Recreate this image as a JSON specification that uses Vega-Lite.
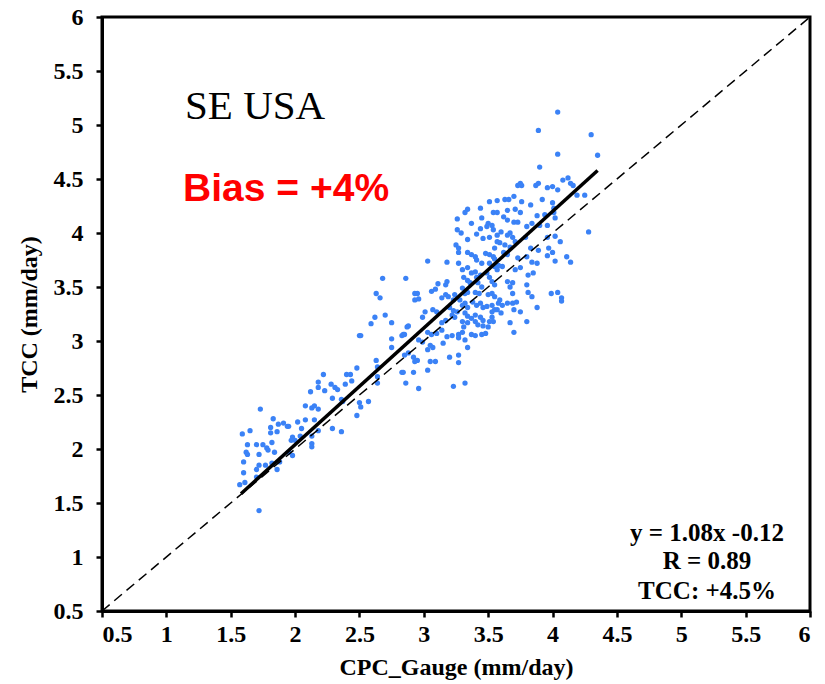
{
  "$schema": "https://vega.github.io/schema/vega-lite/v6.json",
  "autosize": "none",
  "width": 708,
  "height": 594,
  "padding": {"left": 102, "top": 17, "right": 15, "bottom": 73},
  "background": "white",
  "config": {
    "view": {"stroke": "black", "strokeWidth": 3},
    "axis": {
      "grid": false,
      "domainColor": "black",
      "domainWidth": 3,
      "tickColor": "black",
      "tickWidth": 2.5,
      "tickSize": 6,
      "labelFont": "Liberation Serif",
      "labelFontWeight": "bold",
      "labelColor": "black",
      "titleFont": "Liberation Serif",
      "titleFontWeight": "bold",
      "titleFontSize": 24,
      "titleColor": "black"
    }
  },
  "datasets": {
    "pts": [
      {"x":2.50,"y":3.05},{"x":2.75,"y":3.02},{"x":2.75,"y":2.94},{"x":2.83,"y":3.05},{"x":2.85,"y":2.87},{"x":2.63,"y":2.82},{"x":2.64,"y":2.76},{"x":2.48,"y":2.75},{"x":2.83,"y":2.71},{"x":2.22,"y":2.69},
      {"x":2.40,"y":2.69},{"x":2.43,"y":2.69},{"x":2.44,"y":2.63},{"x":2.18,"y":2.62},{"x":2.18,"y":2.57},{"x":2.28,"y":2.60},{"x":2.31,"y":2.57},{"x":2.33,"y":2.55},{"x":2.39,"y":2.60},{"x":2.23,"y":2.54},
      {"x":2.12,"y":2.53},{"x":2.64,"y":2.67},{"x":2.64,"y":2.61},{"x":2.29,"y":2.47},{"x":2.36,"y":2.46},{"x":2.37,"y":2.44},{"x":2.57,"y":2.44},{"x":2.50,"y":2.43},{"x":2.51,"y":2.39},{"x":2.48,"y":2.31},
      {"x":2.08,"y":2.40},{"x":2.13,"y":2.38},{"x":2.15,"y":2.40},{"x":2.18,"y":2.37},{"x":1.73,"y":2.37},{"x":1.83,"y":2.28},{"x":2.08,"y":2.27},{"x":2.15,"y":2.27},{"x":2.02,"y":2.25},{"x":1.91,"y":2.24},
      {"x":1.94,"y":2.21},{"x":1.95,"y":2.21},{"x":1.87,"y":2.23},{"x":1.81,"y":2.20},{"x":2.05,"y":2.19},{"x":1.65,"y":2.17},{"x":1.59,"y":2.14},{"x":1.86,"y":2.16},{"x":1.81,"y":2.15},{"x":2.29,"y":2.19},
      {"x":2.36,"y":2.16},{"x":2.18,"y":2.17},{"x":1.98,"y":2.11},{"x":2.00,"y":2.08},{"x":2.04,"y":2.12},{"x":2.13,"y":2.12},{"x":1.82,"y":2.06},{"x":1.70,"y":2.04},{"x":1.75,"y":2.04},{"x":1.78,"y":2.01},
      {"x":1.79,"y":1.99},{"x":1.63,"y":2.04},{"x":2.13,"y":2.05},{"x":2.13,"y":2.02},{"x":1.62,"y":1.97},{"x":1.63,"y":1.95},{"x":1.72,"y":1.95},{"x":1.84,"y":1.97},{"x":1.95,"y":1.97},{"x":1.98,"y":1.94},
      {"x":1.88,"y":1.88},{"x":1.60,"y":1.88},{"x":1.72,"y":1.85},{"x":1.77,"y":1.85},{"x":1.86,"y":1.81},{"x":1.70,"y":1.81},{"x":1.60,"y":1.78},{"x":1.70,"y":1.74},{"x":1.61,"y":1.69},{"x":1.57,"y":1.67},
      {"x":1.72,"y":1.43},{"x":1.97,"y":2.08},{"x":1.82,"y":1.87},
      {"x":3.51,"y":4.29},{"x":3.57,"y":4.30},{"x":3.44,"y":4.23},{"x":3.34,"y":4.22},{"x":3.32,"y":4.19},{"x":3.54,"y":4.19},{"x":3.57,"y":4.19},{"x":3.45,"y":4.14},{"x":3.26,"y":4.13},{"x":3.37,"y":4.09},
      {"x":3.50,"y":4.09},{"x":3.53,"y":4.07},{"x":3.49,"y":4.06},{"x":3.44,"y":4.04},{"x":3.26,"y":4.03},{"x":3.29,"y":4.00},{"x":3.41,"y":3.99},{"x":3.54,"y":4.03},{"x":3.57,"y":3.98},{"x":3.46,"y":3.95},
      {"x":3.51,"y":3.96},{"x":3.34,"y":3.94},{"x":3.25,"y":3.89},{"x":3.27,"y":3.86},{"x":3.27,"y":3.82},{"x":3.57,"y":3.92},{"x":3.55,"y":3.86},{"x":3.34,"y":3.82},{"x":3.37,"y":3.80},{"x":3.40,"y":3.78},
      {"x":3.48,"y":3.81},{"x":3.51,"y":3.80},{"x":3.54,"y":3.78},{"x":3.55,"y":3.76},{"x":3.18,"y":3.73},{"x":3.03,"y":3.74},{"x":3.27,"y":3.72},{"x":3.41,"y":3.75},{"x":3.45,"y":3.72},{"x":3.51,"y":3.72},
      {"x":3.55,"y":3.69},{"x":3.58,"y":3.70},{"x":3.30,"y":3.66},{"x":3.34,"y":3.68},{"x":3.37,"y":3.63},{"x":3.40,"y":3.64},{"x":3.41,"y":3.59},{"x":3.44,"y":3.61},{"x":3.49,"y":3.63},{"x":3.51,"y":3.59},
      {"x":2.86,"y":3.58},{"x":3.31,"y":3.59},{"x":3.34,"y":3.56},{"x":3.36,"y":3.54},{"x":3.18,"y":3.55},{"x":3.17,"y":3.52},{"x":3.42,"y":3.54},{"x":3.45,"y":3.50},{"x":3.53,"y":3.55},{"x":3.55,"y":3.52},
      {"x":3.09,"y":3.48},{"x":3.06,"y":3.46},{"x":3.11,"y":3.53},{"x":3.30,"y":3.49},{"x":3.32,"y":3.44},{"x":3.34,"y":3.45},{"x":3.40,"y":3.45},{"x":3.43,"y":3.44},{"x":3.50,"y":3.43},{"x":3.53,"y":3.44},
      {"x":2.93,"y":3.44},{"x":3.17,"y":3.43},{"x":3.19,"y":3.41},{"x":3.14,"y":3.40},{"x":3.24,"y":3.43},{"x":3.23,"y":3.38},{"x":2.96,"y":3.39},{"x":3.28,"y":3.38},{"x":3.30,"y":3.33},{"x":3.32,"y":3.35},
      {"x":3.34,"y":3.31},{"x":3.38,"y":3.36},{"x":3.41,"y":3.33},{"x":3.44,"y":3.35},{"x":3.46,"y":3.31},{"x":3.49,"y":3.32},{"x":3.53,"y":3.33},{"x":3.58,"y":3.35},{"x":3.57,"y":3.29},{"x":3.20,"y":3.31},
      {"x":3.23,"y":3.28},{"x":3.26,"y":3.27},{"x":3.22,"y":3.24},{"x":3.24,"y":3.22},{"x":3.01,"y":3.27},{"x":3.07,"y":3.29},{"x":3.10,"y":3.27},{"x":3.32,"y":3.26},{"x":3.34,"y":3.23},{"x":3.37,"y":3.21},
      {"x":3.40,"y":3.24},{"x":3.44,"y":3.22},{"x":3.46,"y":3.19},{"x":3.51,"y":3.18},{"x":3.53,"y":3.22},{"x":2.99,"y":3.22},{"x":3.17,"y":3.19},{"x":3.14,"y":3.17},{"x":3.30,"y":3.18},{"x":3.31,"y":3.13},
      {"x":3.34,"y":3.17},{"x":3.40,"y":3.18},{"x":3.42,"y":3.15},{"x":3.46,"y":3.14},{"x":3.50,"y":3.13},{"x":3.54,"y":3.18},{"x":3.53,"y":3.27},{"x":2.84,"y":3.06},{"x":2.87,"y":3.13},{"x":3.03,"y":3.08},
      {"x":3.06,"y":3.06},{"x":3.10,"y":3.07},{"x":3.14,"y":3.10},{"x":3.18,"y":3.04},{"x":3.22,"y":3.05},{"x":3.27,"y":3.06},{"x":3.30,"y":3.08},{"x":3.27,"y":3.03},{"x":3.37,"y":3.06},{"x":3.40,"y":3.05},
      {"x":3.45,"y":3.06},{"x":3.48,"y":3.07},{"x":2.96,"y":3.01},{"x":2.99,"y":2.99},{"x":3.05,"y":2.96},{"x":3.07,"y":2.94},{"x":3.03,"y":2.92},{"x":3.15,"y":2.98},{"x":3.32,"y":3.01},{"x":3.34,"y":2.94},
      {"x":2.88,"y":2.89},{"x":2.92,"y":2.85},{"x":2.95,"y":2.82},{"x":3.20,"y":2.85},{"x":3.27,"y":2.87},{"x":3.27,"y":2.80},{"x":3.05,"y":2.81},{"x":3.09,"y":2.81},{"x":3.03,"y":2.73},{"x":2.93,"y":2.81},
      {"x":2.92,"y":2.71},{"x":2.84,"y":2.71},{"x":2.86,"y":2.61},{"x":2.96,"y":2.56},{"x":3.23,"y":2.58},{"x":3.32,"y":2.61},
      {"x":4.04,"y":5.12},{"x":3.89,"y":4.95},{"x":4.30,"y":4.91},{"x":4.04,"y":4.73},{"x":4.35,"y":4.72},{"x":3.90,"y":4.61},{"x":3.75,"y":4.46},{"x":3.76,"y":4.44},{"x":3.73,"y":4.44},{"x":3.89,"y":4.46},
      {"x":3.87,"y":4.44},{"x":3.96,"y":4.42},{"x":4.00,"y":4.43},{"x":4.04,"y":4.40},{"x":4.08,"y":4.49},{"x":4.12,"y":4.51},{"x":4.14,"y":4.46},{"x":4.16,"y":4.44},{"x":4.19,"y":4.35},{"x":4.25,"y":4.35},
      {"x":3.70,"y":4.34},{"x":3.63,"y":4.31},{"x":3.66,"y":4.31},{"x":3.76,"y":4.29},{"x":3.83,"y":4.26},{"x":3.92,"y":4.31},{"x":4.00,"y":4.28},{"x":3.65,"y":4.21},{"x":3.71,"y":4.22},{"x":3.75,"y":4.19},
      {"x":4.01,"y":4.23},{"x":4.01,"y":4.19},{"x":3.62,"y":4.15},{"x":3.88,"y":4.16},{"x":3.94,"y":4.17},{"x":3.65,"y":4.12},{"x":3.70,"y":4.10},{"x":3.73,"y":4.10},{"x":3.80,"y":4.06},{"x":3.84,"y":4.09},
      {"x":3.90,"y":4.07},{"x":3.96,"y":4.07},{"x":4.02,"y":4.14},{"x":3.60,"y":4.01},{"x":3.65,"y":3.98},{"x":3.67,"y":4.00},{"x":3.69,"y":3.96},{"x":3.59,"y":3.91},{"x":3.63,"y":3.89},{"x":3.67,"y":3.87},
      {"x":3.71,"y":3.92},{"x":3.79,"y":3.96},{"x":3.96,"y":3.96},{"x":4.02,"y":3.97},{"x":4.06,"y":3.92},{"x":4.28,"y":4.01},{"x":3.83,"y":3.86},{"x":3.89,"y":3.84},{"x":3.97,"y":3.86},{"x":4.00,"y":3.82},
      {"x":3.62,"y":3.82},{"x":3.65,"y":3.80},{"x":3.73,"y":3.77},{"x":3.80,"y":3.78},{"x":3.84,"y":3.73},{"x":3.88,"y":3.72},{"x":3.96,"y":3.79},{"x":4.02,"y":3.74},{"x":4.11,"y":3.78},{"x":4.14,"y":3.73},
      {"x":3.61,"y":3.69},{"x":3.57,"y":3.66},{"x":3.71,"y":3.66},{"x":3.75,"y":3.68},{"x":3.81,"y":3.61},{"x":3.85,"y":3.63},{"x":3.65,"y":3.55},{"x":3.69,"y":3.54},{"x":3.67,"y":3.50},{"x":3.80,"y":3.52},
      {"x":3.81,"y":3.45},{"x":3.84,"y":3.41},{"x":3.99,"y":3.44},{"x":4.04,"y":3.45},{"x":4.07,"y":3.40},
      {"x":3.69,"y":3.44},{"x":4.07,"y":3.37},{"x":3.55,"y":3.41},{"x":3.59,"y":3.38},{"x":3.61,"y":3.33},{"x":3.65,"y":3.35},{"x":3.69,"y":3.35},{"x":3.72,"y":3.36},{"x":3.88,"y":3.31},{"x":3.55,"y":3.29},
      {"x":3.60,"y":3.26},{"x":3.70,"y":3.29},{"x":3.75,"y":3.27},{"x":3.67,"y":3.17},{"x":3.80,"y":3.18},{"x":3.70,"y":3.08},
      {"x":2.68,"y":3.58},{"x":2.63,"y":3.44},{"x":2.66,"y":3.40},{"x":2.62,"y":3.22},{"x":2.70,"y":3.24},{"x":2.75,"y":3.17},{"x":2.59,"y":3.16},{"x":2.51,"y":3.05},{"x":2.85,"y":3.06},{"x":2.88,"y":3.14},
      {"x":2.95,"y":3.44},{"x":2.93,"y":3.38}
    ],
    "ref": [{"x": 0.5, "y": 0.5}, {"x": 6, "y": 6}],
    "fit": [{"x": 1.58, "y": 1.586}, {"x": 4.35, "y": 4.578}]
  },
  "layer": [
    {
      "data": {"name": "pts"},
      "mark": {"type": "circle", "color": "#3b82f6", "opacity": 1, "size": 28},
      "encoding": {
        "x": {
          "field": "x", "type": "quantitative",
          "scale": {"domain": [0.5, 6], "nice": false, "zero": false},
          "axis": {"values": [0.5,1,1.5,2,2.5,3,3.5,4,4.5,5,5.5,6], "format": "~g", "title": "CPC_Gauge (mm/day)", "labelFontSize": 24, "labelPadding": 5, "titlePadding": 9}
        },
        "y": {
          "field": "y", "type": "quantitative",
          "scale": {"domain": [0.5, 6], "nice": false, "zero": false},
          "axis": {"values": [0.5,1,1.5,2,2.5,3,3.5,4,4.5,5,5.5,6], "format": "~g", "title": "TCC (mm/day)", "labelFontSize": 24, "labelPadding": 13, "titlePadding": 12}
        }
      }
    },
    {
      "data": {"name": "ref"},
      "mark": {"type": "line", "color": "black", "strokeWidth": 1.5, "strokeDash": [10, 6]},
      "encoding": {"x": {"field": "x", "type": "quantitative"}, "y": {"field": "y", "type": "quantitative"}}
    },
    {
      "data": {"name": "fit"},
      "mark": {"type": "line", "color": "black", "strokeWidth": 3.5},
      "encoding": {"x": {"field": "x", "type": "quantitative"}, "y": {"field": "y", "type": "quantitative"}}
    },
    {
      "data": {"values": [{"x": 1.145, "y": 5.06, "t": "SE USA"}]},
      "mark": {"type": "text", "align": "left", "baseline": "alphabetic", "font": "Liberation Serif", "fontSize": 41, "color": "black"},
      "encoding": {"x": {"field": "x", "type": "quantitative"}, "y": {"field": "y", "type": "quantitative"}, "text": {"field": "t"}}
    },
    {
      "data": {"values": [{"x": 1.13, "y": 4.3, "t": "Bias = +4%"}]},
      "mark": {"type": "text", "align": "left", "baseline": "alphabetic", "font": "Liberation Sans", "fontWeight": "bold", "fontSize": 39, "color": "#ff0000"},
      "encoding": {"x": {"field": "x", "type": "quantitative"}, "y": {"field": "y", "type": "quantitative"}, "text": {"field": "t"}}
    },
    {
      "data": {"values": [
        {"x": 5.2, "y": 1.148, "t": "y = 1.08x -0.12"},
        {"x": 5.2, "y": 0.889, "t": "R = 0.89"},
        {"x": 5.2, "y": 0.611, "t": "TCC: +4.5%"}
      ]},
      "mark": {"type": "text", "align": "center", "baseline": "alphabetic", "font": "Liberation Serif", "fontWeight": "bold", "fontSize": 25, "color": "black"},
      "encoding": {"x": {"field": "x", "type": "quantitative"}, "y": {"field": "y", "type": "quantitative"}, "text": {"field": "t"}}
    }
  ]
}
